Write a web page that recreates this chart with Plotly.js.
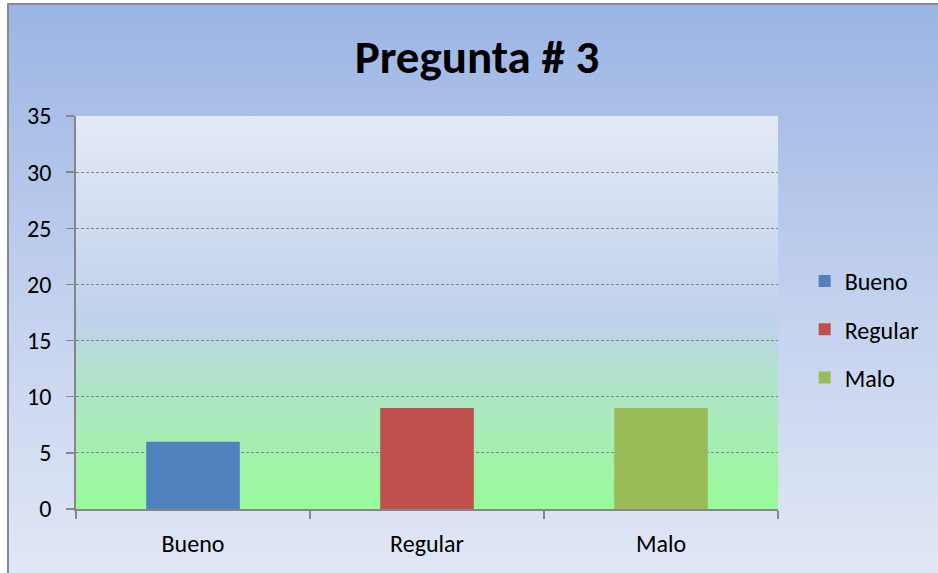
<!DOCTYPE html>
<html>
<head>
<meta charset="utf-8">
<script src="https://cdn.plot.ly/plotly-3.0.1.min.js"></script>
<style>
  html, body { margin: 0; padding: 0; background: #ffffff; }
  #wrap { position: relative; width: 938px; height: 573px; overflow: hidden; }
  #bgpanel { position: absolute; left: 7px; top: 3px; width: 960px; height: 600px;
    border-left: 2px solid #8a8a8a; border-top: 2px solid #8a8a8a;
    background: linear-gradient(to bottom, #9bb5e4 0%, #c4d1ee 50%, #e4e9f6 100%); }
  #chart { position: absolute; left: 0; top: 0; width: 938px; height: 573px; }
</style>
</head>
<body>
<div id="wrap">
  <div id="bgpanel"></div>
  <div id="chart"></div>
</div>
<script>
// Data
const categories = ["Bueno", "Regular", "Malo"];
const values = [6, 9, 9];
const colors = ["#4f81bd", "#c0504d", "#9bbb59"];
const yTicks = [0, 5, 10, 15, 20, 25, 30, 35];
const titleText = "Pregunta # 3";

const FONT = "Carlito, Calibri, 'Open Sans', 'Liberation Sans', sans-serif";

const traces = categories.map((c, i) => ({
  type: "bar",
  name: c,
  x: [c],
  y: [values[i]],
  marker: { color: colors[i] },
  legendgroup: "g" + i,
  hoverinfo: "x+y"
}));

const gradSvg = '<svg xmlns="http://www.w3.org/2000/svg" width="100" height="100" viewBox="0 0 100 100" preserveAspectRatio="none">' +
  '<defs><linearGradient id="g" x1="0" y1="0" x2="0" y2="1">' +
  '<stop offset="0" stop-color="#e4e9f5"/>' +
  '<stop offset="0.52" stop-color="#c0d1ec"/>' +
  '<stop offset="0.62" stop-color="#b5dfd3"/>' +
  '<stop offset="1" stop-color="#98fb98"/>' +
  '</linearGradient></defs><rect x="0" y="0" width="100" height="100" fill="url(#g)"/></svg>';
const gradUri = "data:image/svg+xml;charset=utf-8," + encodeURIComponent(gradSvg);

const layout = {
  width: 938,
  height: 573,
  margin: { l: 76, r: 160, t: 116, b: 64 },
  paper_bgcolor: "rgba(0,0,0,0)",
  plot_bgcolor: "rgba(0,0,0,0)",
  barmode: "overlay",
  bargap: 0.6,
  showlegend: true,
  title: {
    text: "<b>" + titleText + "</b>",
    font: { family: FONT, size: 47, color: "#000000" },
    x: 0.5085, xanchor: "center",
    y: 1 - 57 / 573, yanchor: "middle", yref: "container"
  },
  font: { family: FONT, size: 24, color: "#000000" },
  xaxis: {
    type: "category",
    categoryorder: "array",
    categoryarray: categories,
    showline: true, linecolor: "#868686", linewidth: 1.8,
    ticks: "outside", tickson: "boundaries", ticklen: 8, tickcolor: "#868686", tickwidth: 1.8,
    ticklabelstandoff: 12,
    tickfont: { family: FONT, size: 24, color: "#000000" },
    showgrid: false, zeroline: false
  },
  yaxis: {
    range: [0, 35],
    tickvals: yTicks,
    ticktext: yTicks.map(String),
    showline: true, linecolor: "#868686", linewidth: 1.8,
    ticks: "outside", ticklen: 8, tickcolor: "#868686", tickwidth: 1.5,
    ticklabelstandoff: 10,
    tickfont: { family: FONT, size: 24, color: "#000000" },
    showgrid: true, gridcolor: "#868686", gridwidth: 1, griddash: "3px,2px",
    zeroline: false
  },
  legend: {
    x: 1.038, xref: "paper", xanchor: "left",
    y: 0.457, yanchor: "middle",
    bgcolor: "rgba(0,0,0,0)",
    font: { family: FONT, size: 24, color: "#000000" },
    traceorder: "grouped",
    tracegroupgap: 14,
    itemwidth: 30,
    borderwidth: 0
  },
  images: [{
    source: gradUri,
    xref: "paper", yref: "paper",
    x: 0, y: 1, sizex: 1, sizey: 1,
    xanchor: "left", yanchor: "top",
    sizing: "stretch", layer: "below"
  }]
};

Plotly.newPlot("chart", traces, layout, { displayModeBar: false, staticPlot: true });
</script>
</body>
</html>
